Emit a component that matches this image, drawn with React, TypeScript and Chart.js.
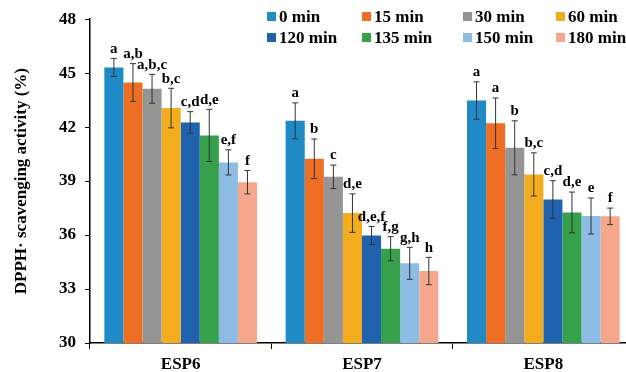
import React, { useEffect, useRef } from "react";
import { Chart, registerables } from "chart.js";
Chart.register(...registerables);

const categories = ["ESP6", "ESP7", "ESP8"];
const seriesNames = ["0 min", "15 min", "30 min", "60 min", "120 min", "135 min", "150 min", "180 min"];
const seriesColors = ["#1f8ac6", "#ee6f24", "#959595", "#f2ac1d", "#1f63ae", "#36a04a", "#8cbbe4", "#f6a78b"];

const v0 = [45.32, 42.35, 43.48];
const v15 = [44.48, 40.24, 42.22];
const v30 = [44.13, 39.24, 40.85];
const v60 = [43.06, 37.22, 39.37];
const v120 = [42.26, 35.98, 37.98];
const v135 = [41.54, 35.24, 37.26];
const v150 = [40.04, 34.43, 37.06];
const v180 = [38.94, 34.0, 37.04];

const e0 = [0.5, 1.0, 1.04];
const e15 = [1.05, 1.1, 1.4];
const e30 = [0.8, 0.65, 1.5];
const e60 = [1.1, 1.07, 1.2];
const e120 = [0.6, 0.5, 1.04];
const e135 = [1.45, 0.67, 1.13];
const e150 = [0.7, 0.89, 1.0];
const e180 = [0.65, 0.76, 0.46];

const l0 = ["a", "a", "a"];
const l15 = ["a,b", "b", "a"];
const l30 = ["a,b,c", "c", "b"];
const l60 = ["b,c", "d,e", "b,c"];
const l120 = ["c,d", "d,e,f", "c,d"];
const l135 = ["d,e", "f,g", "d,e"];
const l150 = ["e,f", "g,h", "e"];
const l180 = ["f", "h", "f"];

const yTicksMin = 30;
const yTicksMax = 48;
const yTicksStep = 3;

const allValues = [v0, v15, v30, v60, v120, v135, v150, v180];
const allErrors = [e0, e15, e30, e60, e120, e135, e150, e180];
const allLetters = [l0, l15, l30, l60, l120, l135, l150, l180];

const FONT = "'Liberation Serif', 'Times New Roman', serif";

const errorBarPlugin = {
  id: "errorBars",
  afterDatasetsDraw(chart: any) {
    const ctx = chart.ctx;
    const yScale = chart.scales.y;
    ctx.save();
    chart.data.datasets.forEach((ds: any, i: number) => {
      const meta = chart.getDatasetMeta(i);
      meta.data.forEach((bar: any, j: number) => {
        const v = allValues[i][j];
        const e = allErrors[i][j];
        const x = bar.x;
        const yTop = yScale.getPixelForValue(v + e);
        const yBot = yScale.getPixelForValue(v - e);
        ctx.strokeStyle = "#333333";
        ctx.lineWidth = 1;
        ctx.beginPath();
        ctx.moveTo(x, yTop);
        ctx.lineTo(x, yBot);
        ctx.moveTo(x - 3, yTop);
        ctx.lineTo(x + 3, yTop);
        ctx.moveTo(x - 3, yBot);
        ctx.lineTo(x + 3, yBot);
        ctx.stroke();
        ctx.fillStyle = "#000";
        ctx.font = `bold 15px ${FONT}`;
        ctx.textAlign = "center";
        ctx.textBaseline = "bottom";
        ctx.fillText(allLetters[i][j], x, yTop - 2);
      });
    });
    ctx.restore();
  },
};

const legendPlugin = {
  id: "customLegend",
  afterDraw(chart: any) {
    const ctx = chart.ctx;
    const colX = [267, 362, 463, 556];
    const rowY = [16.5, 37.5];
    ctx.save();
    seriesNames.forEach((name, i) => {
      const x = colX[i % 4];
      const y = rowY[Math.floor(i / 4)];
      ctx.fillStyle = seriesColors[i];
      ctx.fillRect(x, y - 4.5, 9, 9);
      ctx.fillStyle = "#000";
      ctx.font = `bold 17px ${FONT}`;
      ctx.textAlign = "left";
      ctx.textBaseline = "middle";
      ctx.fillText(name, x + 12, y + 1);
    });
    ctx.restore();
  },
};

export default function App() {
  const ref = useRef<HTMLCanvasElement>(null);
  useEffect(() => {
    document.body.style.margin = "0";
    const chart = new Chart(ref.current as HTMLCanvasElement, {
      type: "bar",
      data: {
        labels: categories,
        datasets: seriesNames.map((n, i) => ({
          label: n,
          data: allValues[i],
          backgroundColor: seriesColors[i],
          borderWidth: 0,
          categoryPercentage: 0.842,
          barPercentage: 1.0,
        })),
      },
      options: {
        responsive: false,
        animation: false,
        layout: { padding: { top: 19, right: 6, left: 0, bottom: 0 } },
        plugins: {
          legend: { display: false },
          tooltip: { enabled: false },
        },
        scales: {
          x: {
            grid: {
              display: true,
              drawOnChartArea: false,
              drawTicks: true,
              tickLength: 6,
              color: "#000",
              offset: true,
            },
            border: { display: true, color: "#000", width: 1.5 },
            ticks: {
              color: "#000",
              font: { family: FONT, size: 17, weight: "bold" },
              padding: 5,
            },
            afterFit: (s: any) => {
              s.height = 29;
            },
          },
          y: {
            min: yTicksMin,
            max: yTicksMax,
            grid: {
              display: true,
              drawOnChartArea: false,
              drawTicks: true,
              tickLength: 5,
              color: "#000",
            },
            border: { display: true, color: "#000", width: 1.5 },
            ticks: {
              stepSize: yTicksStep,
              color: "#000",
              font: { family: FONT, size: 17, weight: "bold" },
              padding: 9,
            },
            title: {
              display: true,
              text: "DPPH· scavenging activity (%)",
              color: "#000",
              font: { family: FONT, size: 17, weight: "bold" },
              padding: { top: 11, bottom: 0 },
            },
            afterFit: (s: any) => {
              s.width = 90;
            },
          },
        },
      },
      plugins: [errorBarPlugin, legendPlugin],
    });
    return () => chart.destroy();
  }, []);
  return (
    <div style={{ width: 626, height: 372, overflow: "hidden", position: "relative" }}>
      <canvas ref={ref} width={640} height={372} style={{ display: "block" }} />
    </div>
  );
}
